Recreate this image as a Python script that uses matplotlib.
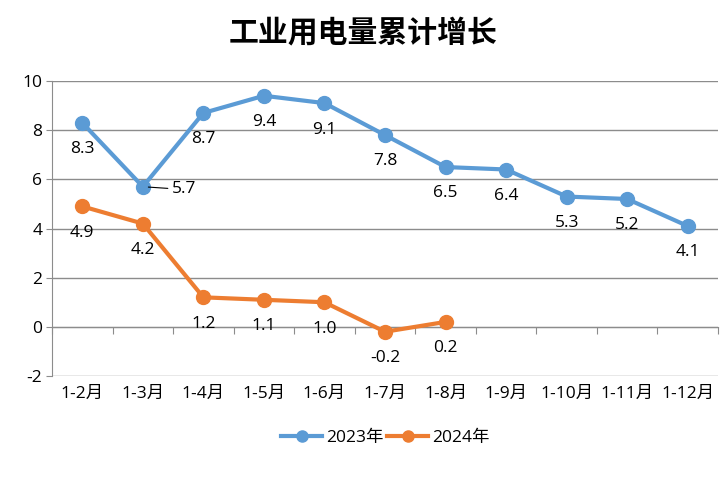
import matplotlib
matplotlib.use("Agg")
import matplotlib.pyplot as plt
import numpy as np

plt.rcParams['font.family'] = ['Open Sans', 'Noto Sans CJK SC', 'DejaVu Sans']

categories = ["1-2月", "1-3月", "1-4月", "1-5月", "1-6月", "1-7月", "1-8月", "1-9月", "1-10月", "1-11月", "1-12月"]
s2023 = [8.3, 5.7, 8.7, 9.4, 9.1, 7.8, 6.5, 6.4, 5.3, 5.2, 4.1]
s2024 = [4.9, 4.2, 1.2, 1.1, 1.0, -0.2, 0.2]
yticks = [-2, 0, 2, 4, 6, 8, 10]

blue = "#5B9BD5"
orange = "#ED7D31"
grid = "#8c8c8c"

fig = plt.figure(figsize=(7.27, 4.79), dpi=100)
ax = fig.add_axes([52/727, 1-376/479, (718-52)/727, (376-81)/479])

x = np.arange(len(categories))
x24 = np.arange(len(s2024))
ax.plot(x, s2023, color=blue, lw=3, marker='o', ms=10, label="2023年", zorder=3)
ax.plot(x24, s2024, color=orange, lw=3, marker='o', ms=10, label="2024年", zorder=3)

fs = 12.5
for i, v in enumerate(s2023):
    if i == 1:
        ax.annotate(f"{v:.1f}", xy=(i, v), xytext=(21, -2), textcoords='offset points',
                    ha='left', va='center', fontsize=fs,
                    arrowprops=dict(arrowstyle='-', color='black', lw=0.8, shrinkA=1, shrinkB=4))
    else:
        ax.annotate(f"{v:.1f}", xy=(i, v), xytext=(0, -19), textcoords='offset points',
                    ha='center', va='center', fontsize=fs)
for i, v in enumerate(s2024):
    ax.annotate(f"{v:.1f}", xy=(i, v), xytext=(0, -19), textcoords='offset points',
                ha='center', va='center', fontsize=fs)

ax.set_xlim(-0.5, len(categories) - 0.5)
ax.set_ylim(-2, 10)
ax.set_yticks(yticks)
ax.set_yticklabels([str(t) for t in yticks], fontsize=fs)
ax.set_xticks(x)
ax.set_xticklabels(categories, fontsize=fs)
ax.tick_params(axis='x', length=0, pad=7)
ax.tick_params(axis='y', length=4, color=grid, pad=3)
ax.yaxis.grid(True, color=grid, lw=1)
ax.set_axisbelow(True)
for s in ['top', 'right', 'bottom']:
    ax.spines[s].set_visible(False)
ax.spines['left'].set_color(grid)

# category axis at y=0 with tick marks between categories
sec = ax.secondary_xaxis(2/12)
sec.set_xticks(np.arange(-0.5, len(categories), 1.0))
sec.set_xticklabels([])
sec.tick_params(axis='x', direction='out', length=5, color=grid)
sec.spines['bottom'].set_color(grid)

fig.text(0.5, 1-32/479, "工业用电量累计增长", ha='center', va='center', fontsize=21.5,
         fontweight='bold', family=['Noto Sans CJK SC'])

leg = fig.legend(loc='center', bbox_to_anchor=(385/727, 1-438/479), ncol=2, frameon=False,
                 fontsize=fs, handlelength=2.4, columnspacing=0.2, handletextpad=0.2, markerscale=0.8)

fig.savefig("out.png", dpi=100)
